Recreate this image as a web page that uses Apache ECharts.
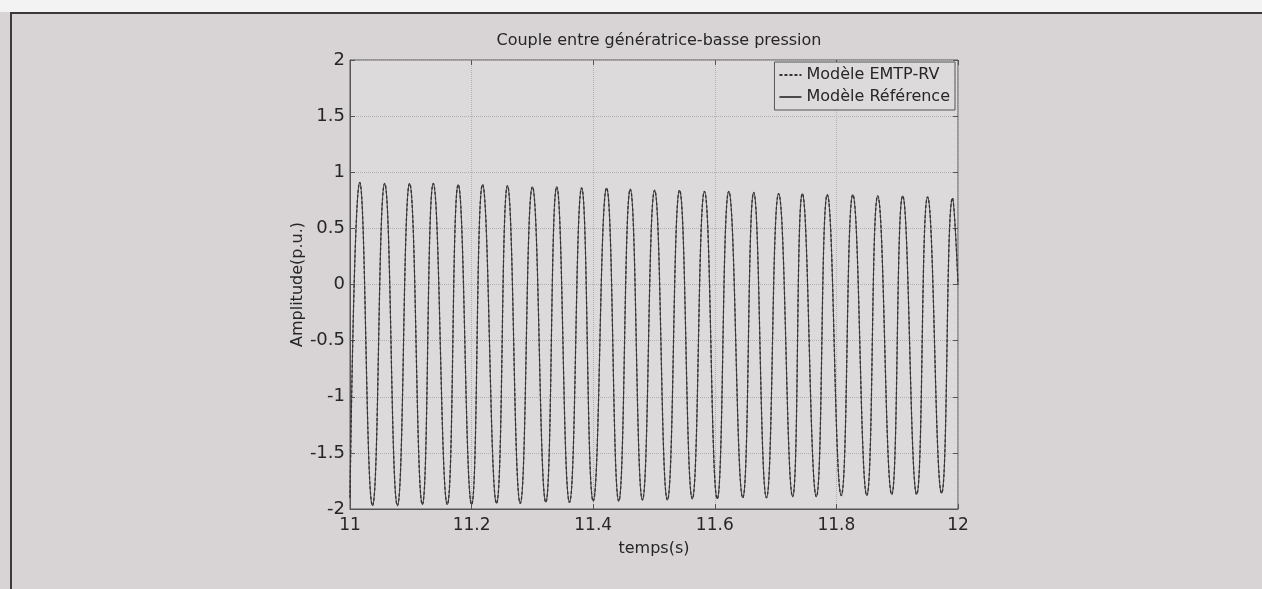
<!DOCTYPE html>
<html>
<head>
<meta charset="utf-8">
<title>Couple entre génératrice-basse pression</title>
<script src="https://cdn.jsdelivr.net/npm/echarts@6/dist/echarts.min.js"></script>
<style>
  html, body { margin: 0; padding: 0; background: #f3f3f3; }
  #couple { width: 1262px; height: 589px; }
</style>
</head>
<body>
<div id="couple"></div>
<script>
// temps (s) : pics et creux
var temps = [11.000, 11.016, 11.037, 11.057, 11.078, 11.098, 11.119, 11.137, 11.160, 11.178,
  11.200, 11.218, 11.241, 11.259, 11.280, 11.300, 11.322, 11.340, 11.361, 11.381,
  11.400, 11.422, 11.442, 11.461, 11.481, 11.501, 11.522, 11.542, 11.563, 11.583,
  11.604, 11.623, 11.646, 11.664, 11.685, 11.705, 11.728, 11.744, 11.767, 11.785,
  11.808, 11.827, 11.850, 11.868, 11.891, 11.909, 11.932, 11.950, 11.973, 11.991, 12.000];

// Modèle EMTP-RV (p.u.)
var emtpRV = [-1.90, 0.91, -1.97, 0.90, -1.97, 0.90, -1.96, 0.90, -1.96, 0.89,
  -1.96, 0.89, -1.95, 0.88, -1.95, 0.87, -1.94, 0.87, -1.94, 0.86,
  -1.93, 0.86, -1.93, 0.85, -1.92, 0.84, -1.92, 0.84, -1.91, 0.83,
  -1.91, 0.83, -1.90, 0.82, -1.90, 0.81, -1.89, 0.81, -1.89, 0.80,
  -1.88, 0.80, -1.88, 0.79, -1.87, 0.79, -1.87, 0.78, -1.86, 0.77, 0.00];

// Modèle Référence (p.u.)
var reference = [-1.90, 0.91, -1.97, 0.90, -1.97, 0.90, -1.96, 0.90, -1.96, 0.89,
  -1.96, 0.89, -1.95, 0.88, -1.95, 0.87, -1.94, 0.87, -1.94, 0.86,
  -1.93, 0.86, -1.93, 0.85, -1.92, 0.84, -1.92, 0.84, -1.91, 0.83,
  -1.91, 0.83, -1.90, 0.82, -1.90, 0.81, -1.89, 0.81, -1.89, 0.80,
  -1.88, 0.80, -1.88, 0.79, -1.87, 0.79, -1.87, 0.78, -1.86, 0.77, 0.00];

var xTicks = [11, 11.2, 11.4, 11.6, 11.8, 12];
var yTicks = [-2, -1.5, -1, -0.5, 0, 0.5, 1, 1.5, 2];

var myChart = echarts.init(document.getElementById("couple"));
window.addEventListener("resize", myChart.resize);

var police = "DejaVu Sans";
var texte = "#262626";

function paires(vals) {
  var out = [];
  for (var i = 0; i < temps.length; i++) {
    out.push([temps[i], vals[i]]);
  }
  return out;
}

var option = {
  backgroundColor: "#d8d4d6",
  animation: false,
  textStyle: { fontFamily: police, color: texte },
  // bande claire en haut et cadre du scan
  graphic: [
    {
      type: "rect",
      shape: { x: 0, y: 0, width: 1262, height: 12 },
      style: { fill: "#f3f3f3" },
      silent: true,
    },
    {
      type: "polyline",
      shape: { points: [[11, 589], [11, 13], [1262, 13]] },
      style: { stroke: "#3a3a3a", lineWidth: 2, fill: null },
      silent: true,
    },
  ],
  title: {
    text: "Couple entre génératrice-basse pression",
    left: 654,
    top: 28,
    textAlign: "center",
    textStyle: { fontSize: 16, fontWeight: "normal", fontFamily: police, color: texte },
  },
  legend: {
    orient: "vertical",
    right: 307,
    top: 62,
    itemWidth: 22,
    itemHeight: 8,
    itemGap: 6,
    padding: [5, 5, 5, 4],
    backgroundColor: "#dddadb",
    borderColor: "#555",
    borderWidth: 1,
    itemStyle: { opacity: 0 }, // pas de marqueur, seulement le trait
    textStyle: { fontSize: 16, fontFamily: police, color: texte },
    data: ["Modèle EMTP-RV", "Modèle Référence"],
  },
  grid: {
    show: true,
    left: 350,
    right: 304,
    top: 60,
    bottom: 80,
    backgroundColor: "#dddadb",
    borderColor: "#555",
    borderWidth: 1,
  },
  xAxis: [
    {
      type: "value",
      min: xTicks[0],
      max: xTicks[xTicks.length - 1],
      interval: 0.2,
      name: "temps(s)",
      nameLocation: "middle",
      nameGap: 32,
      nameTextStyle: { fontSize: 16, fontFamily: police, color: texte },
      axisLine: { show: true, onZero: false, lineStyle: { color: "#555" } },
      axisTick: { show: true, inside: true, length: 5, lineStyle: { color: "#555" } },
      axisLabel: {
        fontSize: 17,
        margin: 8,
        color: texte,
        fontFamily: police,
        formatter: function (v) { return String(Math.round(v * 10) / 10); },
      },
      splitLine: { show: true, lineStyle: { color: "#b4b0b2", type: "dotted" } },
    },
    {
      // graduations en haut (miroir)
      type: "value",
      position: "top",
      min: xTicks[0],
      max: xTicks[xTicks.length - 1],
      interval: 0.2,
      axisLine: { show: false, onZero: false },
      axisTick: { show: true, inside: true, length: 5, lineStyle: { color: "#555" } },
      axisLabel: { show: false },
      splitLine: { show: false },
    },
  ],
  yAxis: [
    {
      type: "value",
      min: yTicks[0],
      max: yTicks[yTicks.length - 1],
      interval: 0.5,
      name: "Amplitude(p.u.)",
      nameLocation: "middle",
      nameGap: 42,
      nameTextStyle: { fontSize: 16, fontFamily: police, color: texte },
      axisLine: { show: true, onZero: false, lineStyle: { color: "#555" } },
      axisTick: { show: true, inside: true, length: 5, lineStyle: { color: "#555" } },
      axisLabel: { fontSize: 18, margin: 5, color: texte, fontFamily: police },
      splitLine: { show: true, lineStyle: { color: "#b4b0b2", type: "dotted" } },
    },
    {
      // graduations à droite (miroir)
      type: "value",
      position: "right",
      min: yTicks[0],
      max: yTicks[yTicks.length - 1],
      interval: 0.5,
      axisLine: { show: false, onZero: false },
      axisTick: { show: true, inside: true, length: 5, lineStyle: { color: "#555" } },
      axisLabel: { show: false },
      splitLine: { show: false },
    },
  ],
  series: [
    {
      name: "Modèle EMTP-RV",
      type: "line",
      data: paires(emtpRV),
      smooth: 0.5,
      symbol: "none",
      color: "#333",
      lineStyle: { width: 1.3, type: [3, 2], color: "#333" },
      z: 3,
    },
    {
      name: "Modèle Référence",
      type: "line",
      data: paires(reference),
      smooth: 0.5,
      symbol: "none",
      color: "#4a4a4a",
      lineStyle: { width: 1, color: "#4a4a4a" },
      z: 2,
    },
  ],
};

myChart.setOption(option);
</script>
</body>
</html>
